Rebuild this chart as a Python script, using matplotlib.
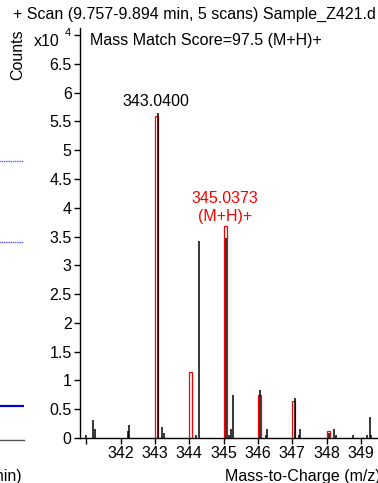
import matplotlib
matplotlib.use("Agg")
import matplotlib.pyplot as plt
import numpy as np

plt.rcParams['font.family'] = ['Liberation Sans', 'DejaVu Sans']

# observed spectrum sticks (m/z, counts x10^4)
obs_mz = [341.00, 341.21, 341.26, 342.21, 342.25, 343.08, 343.21, 343.26,
          344.21, 344.29, 345.08, 345.16, 345.23, 345.29, 346.07, 346.24,
          346.28, 347.08, 347.20, 347.24, 348.08, 348.22, 348.27, 348.77,
          349.18, 349.26, 349.30]
obs_counts = [0.05, 0.32, 0.16, 0.12, 0.22, 5.65, 0.19, 0.09,
              0.05, 3.42, 3.47, 0.05, 0.15, 0.75, 0.84, 0.06,
              0.15, 0.69, 0.05, 0.15, 0.08, 0.15, 0.05, 0.06,
              0.06, 0.37, 0.05]

# predicted isotope pattern (M+H)+
iso_mz = [343.045, 344.045, 345.045, 346.05, 347.05, 348.05]
iso_counts = [5.59, 1.14, 3.68, 0.74, 0.64, 0.12]
iso_faint_mz = [349.035]
iso_faint_counts = [0.02]

y_ticks = [0, 0.5, 1, 1.5, 2, 2.5, 3, 3.5, 4, 4.5, 5, 5.5, 6, 6.5, 7]
y_labels = ['0', '0.5', '1', '1.5', '2', '2.5', '3', '3.5', '4', '4.5',
            '5', '5.5', '6', '6.5', '']
x_ticks = [341, 342, 343, 344, 345, 346, 347, 348, 349]
x_labels = ['', '342', '343', '344', '345', '346', '347', '348', '349']

# leftover of the neighbouring chromatogram panel (cut off in the picture)
left_dotted_levels = [4.82, 3.41]
left_trace_level = 0.56
left_base_level = -0.04

W, H = 378, 483
fig = plt.figure(figsize=(W / 100, H / 100), dpi=100)

ax = fig.add_axes([80 / W, 45 / H, 1 - 80 / W, (438 - 27.7) / H])
ax.vlines(obs_mz, 0, obs_counts, colors='black', lw=1.1)
ax.bar(iso_mz, iso_counts, width=0.09, fill=False, edgecolor='red', lw=0.9)
ax.bar(iso_faint_mz, iso_faint_counts, width=0.07, color='#ffc8d2',
       edgecolor='#ffc8d2', lw=0.9)

ax.set_xlim(340.82, 349.5)
ax.set_ylim(0, 7.13)
for s in ['top', 'right']:
    ax.spines[s].set_visible(False)
for s in ['left', 'bottom']:
    ax.spines[s].set_linewidth(1.0)
ax.set_yticks(y_ticks)
ax.set_yticklabels(y_labels)
ax.set_xticks(x_ticks)
ax.set_xticklabels(x_labels)
ax.tick_params(axis='both', labelsize=11.5, length=4, width=1.0, pad=2)

ax.text(343.04, 5.85, '343.0400', ha='center', va='center', fontsize=11.5)
ax.text(345.04, 4.17, '345.0373', ha='center', va='center', fontsize=11.5,
        color='red')
ax.text(345.04, 3.85, '(M+H)+', ha='center', va='center', fontsize=11.5,
        color='red')

fig.text(13 / W, 1 - 14 / H, '+ Scan (9.757-9.894 min, 5 scans) Sample_Z421.d',
         ha='left', va='center', fontsize=11.5)
fig.text(90 / W, 1 - 41 / H, 'Mass Match Score=97.5 (M+H)+',
         ha='left', va='center', fontsize=11.5)
fig.text(18 / W, 1 - 55 / H, 'Counts', rotation=90, ha='center',
         va='center', fontsize=11.5)
fig.text(34 / W, 1 - 41 / H, 'x10', ha='left', va='center', fontsize=11.5)
fig.text(65 / W, 1 - 33 / H, '4', ha='left', va='center', fontsize=8)
fig.text(225 / W, 1 - 476 / H, 'Mass-to-Charge (m/z)', ha='left',
         va='center', fontsize=11.5)

# left panel remnant
axl = fig.add_axes([-0.6, 45 / H, 0.6 + 24 / W, (438 - 27.7) / H])
axl.set_xlim(0, 1)
axl.set_ylim(0, 7.13)
axl.axis('off')
for lv in left_dotted_levels:
    axl.axhline(lv, color='#5a5aff', lw=1.0, ls=(0, (1, 0.6)))
axl.axhline(left_trace_level, color='#0000cc', lw=1.6)
axl.axhline(left_base_level, color='#555555', lw=1.0, clip_on=False)
fig.text(22 / W, 1 - 476 / H, 'Acquisition Time (min)', ha='right',
         va='center', fontsize=11.5)

fig.savefig('out.png', dpi=100)
